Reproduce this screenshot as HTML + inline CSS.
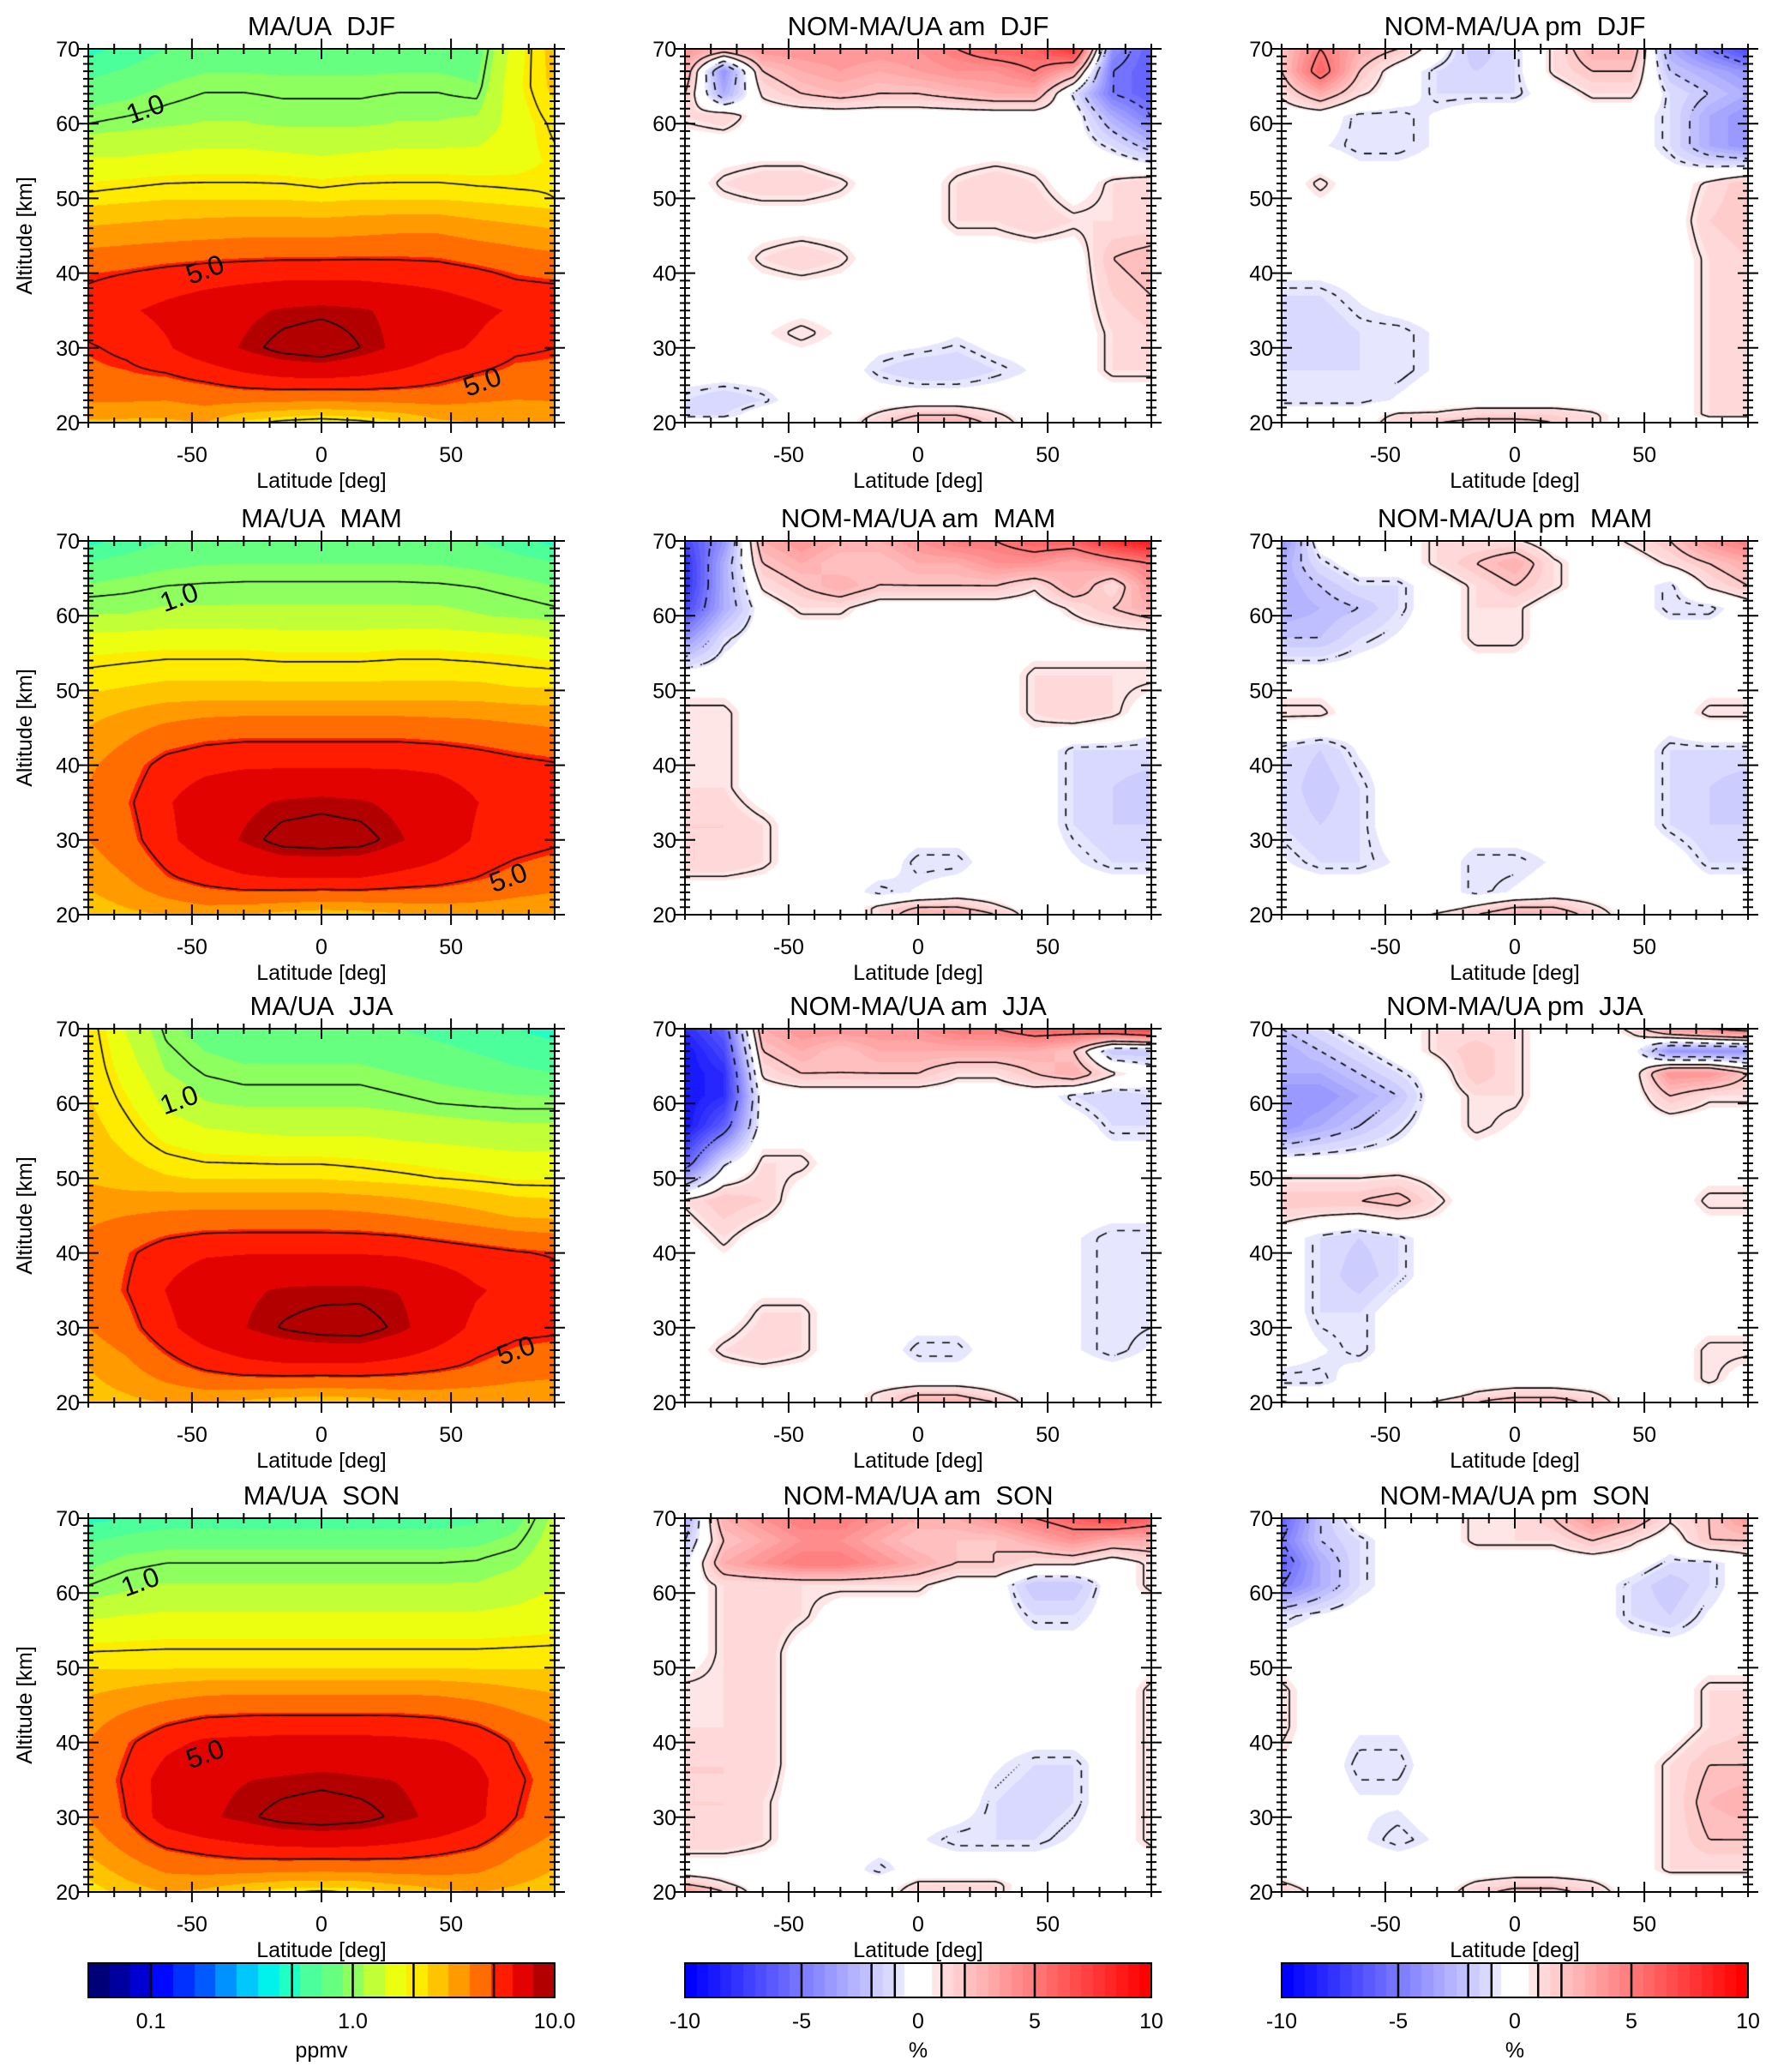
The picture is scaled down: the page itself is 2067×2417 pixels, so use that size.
<!DOCTYPE html>
<html><head><meta charset="utf-8">
<style>
html,body{margin:0;padding:0;background:#fff;}
#wrap{position:relative;width:2067px;height:2417px;overflow:hidden;background:#fff;}
canvas{position:absolute;}
svg{position:absolute;left:0;top:0;}
text{font-family:"Liberation Sans",sans-serif;fill:#000;white-space:pre;}
</style></head>
<body>
<div id="wrap">
<svg id="ax" width="2067" height="2417"></svg>
</div>
<script>
// ---------- data ----------
const LAT=[-90,-75,-60,-45,-30,-15,0,15,30,45,60,75,90];
const ALT_L=[70,65,60,55,50,45,40,35,30,25,20];
const ALT_D=[70,67,64,61,57,52,47,42,37,32,27,23,21,20];
const maDJF=[
[0.5,0.6,0.7,0.75,0.75,0.75,0.75,0.75,0.75,0.75,0.75,1.6,2.6],
[0.75,0.8,0.9,0.97,0.97,0.95,0.95,0.95,0.97,0.97,0.9,1.7,2.5],
[1.0,1.05,1.1,1.15,1.15,1.1,1.1,1.1,1.15,1.15,1.2,1.6,2.1],
[1.5,1.5,1.55,1.6,1.6,1.55,1.5,1.55,1.6,1.6,1.6,1.7,1.9],
[2.1,2.2,2.3,2.3,2.3,2.3,2.2,2.3,2.3,2.3,2.2,2.1,2.0],
[3.3,3.4,3.5,3.6,3.7,3.7,3.7,3.8,3.9,3.9,3.6,3.4,3.2],
[4.8,5,5.3,5.5,5.6,5.7,5.7,5.7,5.6,5.5,5.2,4.8,4.6],
[5.5,6,6.5,7,7.5,8,8.2,8,7.5,7,6.5,6,6],
[4.9,5.2,6,7,8,9,9.5,8.5,7.5,6.5,6,5.2,5],
[4.6,4.6,4.5,4.8,5.2,5.4,5.4,5.4,5.2,4.9,4.5,4.3,4.4],
[2.8,2.8,2.8,3,2.2,1.8,1.6,1.8,2.2,2.8,3,3,3]];
const maMAM=[
[0.5,0.6,0.7,0.75,0.75,0.75,0.75,0.75,0.75,0.75,0.7,0.6,0.5],
[0.85,0.9,0.95,0.97,0.98,0.98,0.98,0.98,0.98,0.97,0.95,0.9,0.85],
[1.15,1.15,1.2,1.2,1.2,1.2,1.2,1.2,1.2,1.2,1.15,1.1,1.05],
[1.8,1.85,1.9,1.9,1.9,1.85,1.85,1.85,1.9,1.9,1.85,1.8,1.7],
[2.3,2.4,2.5,2.5,2.5,2.5,2.5,2.5,2.5,2.5,2.5,2.4,2.4],
[3,3.5,4,4.3,4.4,4.4,4.4,4.4,4.4,4.3,4.2,4,3.8],
[3.6,4.4,5.4,5.8,6,6,6,6,6,5.9,5.6,5.3,5.1],
[4,4.8,6,7,7.5,8,8.2,8,7.5,7,6.2,5.6,5.5],
[3.8,4.5,5.8,7,8,9,9.2,9,8,7,6,5.5,5.2],
[3.2,3.8,4.8,5.5,6,6.2,6.2,6.2,5.8,5.5,5,4.5,4.2],
[2.5,2.8,3,3.2,3,2.7,2.5,2.6,2.9,3.1,3.2,3.2,3.2]];
const maJJA=[
[2.2,1.4,0.95,0.8,0.75,0.75,0.75,0.75,0.7,0.65,0.6,0.55,0.5],
[2.3,1.6,1.1,0.95,0.9,0.9,0.9,0.9,0.85,0.8,0.75,0.7,0.65],
[2.4,1.9,1.35,1.15,1.1,1.1,1.1,1.1,1.05,1.0,0.97,0.95,0.95],
[2.6,2.2,1.8,1.6,1.55,1.5,1.5,1.5,1.45,1.4,1.35,1.3,1.3],
[2.9,2.6,2.4,2.3,2.3,2.3,2.3,2.2,2.1,2,1.9,1.8,1.8],
[3.6,3.8,4,4.1,4.1,4.1,4.1,4.0,3.8,3.5,3.2,2.9,2.8],
[4.2,4.8,5.6,6,6.1,6.1,6.1,6.1,6,5.7,5.4,5.1,4.9],
[4,5,6.2,7.2,7.6,8,8.1,8.1,7.8,7.2,6.3,5.8,5.5],
[3.8,4.5,5.8,7,7.8,8.6,9.1,9.2,8.2,7,5.8,5.3,5.2],
[3,3.6,4.5,5.3,5.8,6,6,6,5.7,5.3,4.8,4.4,4.2],
[2.6,2.8,3,3,2.8,2.5,2.4,2.5,2.8,3,3.1,3.1,3.1]];
const maSON=[
[0.5,0.55,0.6,0.6,0.6,0.6,0.6,0.6,0.6,0.6,0.65,0.8,1.2],
[0.8,0.9,0.95,0.95,0.95,0.95,0.95,0.95,0.95,0.95,0.97,1.05,1.3],
[1.05,1.15,1.2,1.2,1.2,1.2,1.2,1.2,1.2,1.2,1.2,1.3,1.5],
[1.6,1.65,1.7,1.7,1.7,1.7,1.7,1.7,1.7,1.7,1.7,1.75,1.8],
[2.3,2.3,2.3,2.3,2.3,2.3,2.3,2.3,2.3,2.3,2.3,2.3,2.3],
[3.2,3.6,4,4.3,4.4,4.4,4.4,4.4,4.4,4.3,4,3.6,3.3],
[3.8,4.8,5.8,6.4,6.5,6.6,6.6,6.6,6.5,6.3,5.8,4.8,4.2],
[4,5.2,6.8,7.5,7.8,8,8.2,8,7.8,7.4,6.6,5.2,4.4],
[3.8,5,6.8,7.6,8.2,9,9.3,9,8.2,7.5,6.5,5,4.2],
[3,3.8,4.6,5,5.3,5.4,5.4,5.4,5.3,5,4.6,3.8,3.2],
[2,2.6,3,2.8,2.3,2,1.9,2,2.4,2.8,3,2.8,2.6]];
const amDJF=[
[4,3,4,4,4,4,4,5,6,6,8,-4,-6],
[3,-4,2,3,3.5,3,3.5,4,4,5,3,-5,-6],
[2,-3,1,2,2.5,2,2,2.5,3,3,-1,-5,-6],
[1,1.5,0,0,0,0,0,0,0,0,0,-3,-5],
[0,0,0,0,-0.5,0,0,0,0,0,0,-1,-2.5],
[0,1,1.5,1.5,1,0,0,1,1.5,1,0,1,1.5],
[0,0,0,0,0,0,0,1,1,1.5,1,1,1],
[0,0,1,1.5,1,0,0,0,0,0,0,2,2.5],
[0,0,0,0,0,0,0,0,0,0,0,1.5,2],
[0,0,0.5,1,0.5,0,0,-0.5,0,0,0,1,1.5],
[0,0,0,0,0,-1,-1.5,-1.5,-1,-0.5,0,1,1],
[-1,-1.5,-1,0,0,0,0,0,0,0,0,0,0],
[-1,-1,0,0,0,1,2,2,1,0,0,0,0],
[0,0,0,0,0,1.5,3,3,1.5,0,0,0,0]];
const pmDJF=[
[2,5,3,2,0,-2,-1,1,3,3,-3,-5,-7],
[2,6,2,0,-1,-1.5,-1,1,2,2,-2,-3,-4],
[1,3,1,0,-1,-1,-1,0,1,1,-1,-2,-3],
[0,0,-1,-1,-0.5,0,0,0,0,0,-1,-3,-4],
[0,-0.5,-1,-1,-0.5,0,0,0,0,0,-1,-3,-4],
[0,1,0,0,0,0,0,0,0,0,0,1,2],
[0,0,0,0,0,0,0,0,0,0,0,1.5,2],
[0,0,0,0,0,0,0,0,0,0,0,1,1.5],
[-1,-1,-0.5,0,0,0,0,0,0,0,0,1,1.5],
[-1,-1.5,-1,-1,-0.5,0,0,0,0,0,0,1,1],
[-1,-1,-1,-1,-0.5,0,0,0,0,0,0,1,1.5],
[-1,-1,-1,-0.5,0,0,0,0,0,0,0,1,1.5],
[0,0,0,1,1,1.5,1.5,1.5,1,0,0,1,1],
[0,0,0,1.5,2,2.5,2.5,2,1,0,0,0,0]];
const amMAM=[
[-7,-4,3,4,3,3,4,5,5,6,6,8,9],
[-8,-3,2,3,2,2,3,3,4,4,3,4,5],
[-8,-3,1,2,3,2,2,2,2,1,3,1,4],
[-7,-3,0,1,1,0,0,0,0,0,1,2,3],
[-4,-1,0,0,0,0,0,0,0,0,0,0,0],
[0,0,0,0,0,0,0,0,0,1,1,1,1],
[1,1,0,0,0,0,0,0,0,1,1.5,1,0],
[1,1,0,0,0,0,0,0,0,0,-1,-1,-1],
[1,1,0,0,0,0,0,0,0,0,-1,-1.5,-2],
[1.5,1.5,1,0,0,0,0,0,0,0,-1,-1.5,-1.5],
[1.5,1.5,1,0,0,0,-1,-1,0,0,-0.5,-1,-1],
[0,0,0,0,0,-1,-0.5,0,0,0,0,0,0],
[0,0,0,0,0,1,2,2,1,0,0,0,0],
[0,0,0,0,0,1,3,3.5,2,0,0,0,0]];
const pmMAM=[
[-4,0,0,0,1,1,1,0,0,1,2,4,5],
[-3,-1,0,0,1,2,3,1,0,0,1,2,3],
[-3,-2,-1,-1,0,1,2,1,0,0,-1,1,2],
[-3,-2.5,-2,-1,0,1,1,0,0,0,-1,-1,0],
[-2,-2,-1,-0.5,0,1,1,0,0,0,0,0,0],
[0,0,0,0,0,0,0,0,0,0,0,0,0],
[1,1,0,0,0,0,0,0,0,0,0,1,1],
[-1,-1.5,-0.5,0,0,0,0,0,0,0,-1,-1,-1],
[-1,-2,-1,0,0,0,0,0,0,0,-1,-1.5,-2],
[-1,-1.5,-1,0,0,0,0,0,0,0,-1,-1.5,-1.5],
[-0.5,-1,-1,-0.5,0,-1,-1,-0.5,0,0,0,-1,-1],
[0,0,0,0,0,-1,-0.5,0,0,0,0,0,0],
[0,0,0,0,0,1,2,2,1,0,0,0,0],
[0,0,0,0,1,2,3,3,1.5,0,0,0,0]];
const amJJA=[
[-8,-6,3,4,4,4,4,5,5,6,6,7,8],
[-9,-7,2,3,2,3,3,3,3,3,2,-2,-2],
[-9,-8,1,2,2,2,2,1,1,2,3,1,0],
[-9,-8,0,0,0,0,0,0,0,0,-1,-1.5,-1],
[-9,-6,0,0,0,0,0,0,0,0,0,-1,-1],
[-6,-1,1,1,0,0,0,0,0,0,0,0,0],
[1,2,1.5,0,0,0,0,0,0,0,0,0,0],
[0,1,0,0,0,0,0,0,0,0,-0.5,-1,-1],
[0,0,0,0,0,0,0,0,0,0,-0.5,-1,-1],
[0,0,1,1,0,0,0,0,0,0,-0.5,-1,-1],
[0,1,1.5,1,0,0,-1,-1,0,0,-0.5,-1,-0.5],
[0,0,0,0,0,0,0,0,0,0,0,0,0],
[0,0,0,0,0,1,2,2,1,0,0,0,0],
[0,0,0,0,0,1,3,3,2,0,0,0,0]];
const pmJJA=[
[-2,-1,0,0,1,1,1,0,0,1,4,5,6],
[-3,-2,-1,0,1,2,1,0,0,0,-4,-4,-4],
[-3,-3,-2,-1,0,2,1,0,0,0,4,4,2],
[-4,-4,-3,-2,0,1,1,0,0,0,2,1,1],
[-4,-3,-2,-1,0,1,0.5,0,0,0,0,0,0],
[0,0,0,0,0,0,0,0,0,0,0,0,0],
[2,2,2,2.5,1,0,0,0,0,0,0,1,1],
[0,-1,-1.5,-1,0,0,0,0,0,0,0,0,0],
[0,-1,-2,-1,0,0,0,0,0,0,0,0,0],
[0,-1,-1,0,0,0,0,0,0,0,0,0,0],
[0,-0.5,-1,0,0,0,0,0,0,0,0,1,1],
[-1,-1,0,0,0,0,0,0,0,0,0,1,0],
[0,0,0,0,0,1,1.5,1.5,1,0,0,0,0],
[1,0,0,0,1,2,3,3,1.5,0,0,0,0]];
const amSON=[
[-3,3,4,5,5,4,3,3,4,5,6,7,6],
[-2,2,3,4,4,3,2,2,2,3,4,3,3],
[-1,3,4,5,5,4,3,2,2,1,1,0,1],
[0,1,1,1,1,1,1,0,0,-2,-2,0,1],
[0,1,1.5,1,0,0,0,0,0,-1,-1,0,0],
[0,1,1.5,0,0,0,0,0,0,0,0,0,0],
[1,1,1.5,0,0,0,0,0,0,0,0,0,1],
[1,1,1.5,0,0,0,0,0,0,0,0,0,1],
[1.5,1.5,1.5,0,0,0,0,0,-0.5,-1,-1,0,1],
[1.5,1.5,1,0,0,0,0,0,-1,-1.5,-1,0,1],
[1.5,1.5,1,0,0,0,-0.5,-1,-1,-1,-0.5,0,1],
[0,0,0,0,0,-1,0,0,0,0,0,0,0],
[2,1,0,0,0,0,1,1,1,0,0,0,0],
[4,2,0,0,0,0,1.5,1.5,1,0,0,0,0]];
const pmSON=[
[-6,-2,0,0,0,1,1,2,4,3,1,2,4],
[-5,-2,-1,0,0,1,1,1,2,1,0,2,2],
[-6,-3,-1,0,0,0,0,0,0,0,-1,-1,0],
[-5,-3,-1,0,0,0,0,0,0,-1,-2,-1,0],
[-1,-0.5,0,0,0,0,0,0,0,-1,-1.5,-0.5,0],
[0,0,0,0,0,0,0,0,0,0,0,0,0],
[1,0,0,0,0,0,0,0,0,0,0,1,1],
[1,0,-0.5,-0.5,0,0,0,0,0,0,0,1,1.5],
[0.5,0,-1,-1,0,0,0,0,0,0,1,2,2],
[0,0,-0.5,-0.5,0,0,0,0,0,0,1,2.5,3],
[0,0,-0.5,-1,-0.5,-0.5,-0.5,-0.5,0,0,1,2,2],
[0,0,0,0,0,0,0,0,0,0,1,1,1],
[1,0,0,0,0,1,1.5,1.5,1,0,0,0,0],
[2,0,0,0,0,1.5,2.5,2.5,1.5,0,0,0,0]];
const SEASONS=["DJF","MAM","JJA","SON"];
const LEFT_DATA=[maDJF,maMAM,maJJA,maSON];
const AM_DATA=[amDJF,amMAM,amJJA,amSON];
const PM_DATA=[pmDJF,pmMAM,pmJJA,pmSON];
const LEFT_LEVELS=[0.1,0.5,1,2,5,8.5];
const DIFF_LEVELS=[-5,-2,-0.8,0.8,2,5];
const Y_TICKS=[20,30,40,50,60,70];
const X_TICKS=[-50,0,50];
const CB_LEFT_LABELS=["0.1","1.0","10.0"];
const CB_LEFT_VALS=[0.1,1,10];
const CB_DIFF_LABELS=["-10","-5","0","5","10"];
const CB_DIFF_VALS=[-10,-5,0,5,10];

// ---------- layout ----------
const COLX=[103,799,1495], PW=544;
const ROWY=[57,631,1200,1771], PH=436;
const LOGMIN=-1.31, LOGMAX=1;
const wrap=document.getElementById('wrap');
const svg=document.getElementById('ax');
const NS="http://www.w3.org/2000/svg";
function xs(lat,x0){return x0+(lat+90)/180*PW;}
function ys(alt,y0){return y0+(70-alt)/50*PH;}

function interp(grid,alts,lat,alt){
  let fi=(lat+90)/15; let i=Math.min(11,Math.max(0,Math.floor(fi))); let tx=fi-i;
  let j=0; while(j<alts.length-2 && alt<alts[j+1]) j++;
  let ty=(alts[j]-alt)/(alts[j]-alts[j+1]); ty=Math.max(0,Math.min(1,ty));
  const a=grid[j][i],b=grid[j][i+1],c=grid[j+1][i],d=grid[j+1][i+1];
  return (a*(1-tx)+b*tx)*(1-ty)+(c*(1-tx)+d*tx)*ty;
}
const STOPS=[[0,[0,0,100]],[0.08,[0,0,170]],[0.15,[0,0,255]],[0.25,[0,90,255]],[0.33,[0,190,255]],[0.4,[0,255,230]],[0.47,[70,255,160]],[0.55,[120,255,110]],[0.62,[200,255,50]],[0.68,[255,255,0]],[0.74,[255,205,0]],[0.8,[255,150,0]],[0.86,[255,90,0]],[0.89,[255,20,0]],[0.94,[220,0,0]],[0.97,[190,0,0]],[1,[140,0,0]]];
function leftColor(f){
  f=Math.max(0,Math.min(0.9999,f)); f=(Math.floor(f*22)+0.5)/22;
  for(let k=0;k<STOPS.length-1;k++){ if(f<=STOPS[k+1][0]){const t=(f-STOPS[k][0])/(STOPS[k+1][0]-STOPS[k][0]);
    return STOPS[k][1].map((v,q)=>Math.round(v+(STOPS[k+1][1][q]-v)*t));}}
  return STOPS[STOPS.length-1][1];
}
function diffColor(v){
  const av=Math.min(10,Math.abs(v)); if(av<0.6) return [255,255,255];
  const t=Math.ceil(av*2)/20; const w=Math.round(255*(1-t));
  return v>0?[255,w,w]:[w,w,255];
}
function logf(v){return (Math.log10(Math.max(v,1e-3))-LOGMIN)/(LOGMAX-LOGMIN);}

function makeCanvas(x,y,w,h,name){
  const c=document.createElement('canvas'); c.width=w;c.height=h;
  c.style.left=x+'px';c.style.top=y+'px';
  
  
  wrap.insertBefore(c,svg); return c;
}
function drawField(name,x0,y0,grid,alts,isLeft,levels){
  const c=makeCanvas(x0,y0,PW,PH,name); const ctx=c.getContext('2d');
  const img=ctx.createImageData(PW,PH);
  const val=(px,py)=>{const lat=-90+px/PW*180, alt=70-py/PH*50; return interp(grid,alts,lat,alt);};
  for(let py=0;py<PH;py++)for(let px=0;px<PW;px++){
    const v=val(px+0.5,py+0.5); const col=isLeft?leftColor(logf(v)):diffColor(v);
    const o=(py*PW+px)*4; img.data[o]=col[0];img.data[o+1]=col[1];img.data[o+2]=col[2];img.data[o+3]=255;}
  ctx.putImageData(img,0,0);
  const s=3, nx=Math.ceil(PW/s)+1, ny=Math.ceil(PH/s)+1;
  const F=[]; for(let j=0;j<ny;j++){F.push([]);for(let i=0;i<nx;i++){F[j].push(val(i*s,j*s));}}
  ctx.strokeStyle='#000'; ctx.lineWidth=1.6;
  levels.forEach(L=>{
    ctx.beginPath();
    for(let j=0;j<ny-1;j++)for(let i=0;i<nx-1;i++){
      const c4=[[i,j],[i+1,j],[i+1,j+1],[i,j+1]]; const pts=[];
      for(let e=0;e<4;e++){const p=c4[e],q=c4[(e+1)%4]; const a=F[p[1]][p[0]]-L,b=F[q[1]][q[0]]-L;
        if((a<0)!==(b<0)){const t=a/(a-b); pts.push([(p[0]+(q[0]-p[0])*t)*s,(p[1]+(q[1]-p[1])*t)*s]);}}
      for(let k=0;k+1<pts.length;k+=2){
        if(!isLeft && L<0 && (Math.floor((i+j)/3)%2)) continue;
        ctx.moveTo(pts[k][0],pts[k][1]);ctx.lineTo(pts[k+1][0],pts[k+1][1]);}
    }
    ctx.stroke();
  });
}
function el(tag,attrs,txt,name,inter){
  const e=document.createElementNS(NS,tag);
  for(const k in attrs) e.setAttribute(k,attrs[k]);
  if(txt!==undefined&&txt!==null) e.textContent=txt;
  
  
  svg.appendChild(e); return e;
}
function axes(x0,y0,title,showY,pname){
  el('rect',{x:x0,y:y0,width:PW,height:PH,fill:'none',stroke:'#000','stroke-width':2},null,pname+'-frame');
  let d='';
  for(let a=20;a<=70;a++){const y=ys(a,y0); const L=(a%10===0)?12:6; d+=`M${x0} ${y}h${L}M${x0+PW} ${y}h${-L}M${x0} ${y}h-${L}M${x0+PW} ${y}h${L}`;}
  for(let l=-90;l<=90;l+=10){const x=xs(l,x0); const L=(l%50===0)?12:6; d+=`M${x} ${y0+PH}v${-L}M${x} ${y0}v${L}M${x} ${y0+PH}v${L}M${x} ${y0}v${-L}`;}
  el('path',{d:d,stroke:'#000','stroke-width':2,fill:'none'},null,pname+'-ticks');
  Y_TICKS.forEach(t=>el('text',{x:x0-10,y:ys(t,y0)+9,'text-anchor':'end','font-size':25},String(t),pname+'-y-tick-label'));
  X_TICKS.forEach(t=>el('text',{x:xs(t,x0),y:y0+PH+46,'text-anchor':'middle','font-size':25},String(t),pname+'-x-tick-label'));
  el('text',{x:x0+PW/2,y:y0+PH+76,'text-anchor':'middle','font-size':25},'Latitude [deg]',pname+'-x-axis-title');
  el('text',{x:x0+PW/2,y:y0-16,'text-anchor':'middle','font-size':31},title,pname+'-title');
  if(showY) el('text',{x:37,y:y0+PH/2,'text-anchor':'middle','font-size':25,transform:`rotate(-90 37 ${y0+PH/2})`},'Altitude [km]',pname+'-y-axis-title');
}
for(let r=0;r<4;r++){
  const s=SEASONS[r];
  drawField('ma-ua-'+s.toLowerCase()+'-field',COLX[0],ROWY[r],LEFT_DATA[r],ALT_L,true,LEFT_LEVELS);
  drawField('am-'+s.toLowerCase()+'-field',COLX[1],ROWY[r],AM_DATA[r],ALT_D,false,DIFF_LEVELS);
  drawField('pm-'+s.toLowerCase()+'-field',COLX[2],ROWY[r],PM_DATA[r],ALT_D,false,DIFF_LEVELS);
  axes(COLX[0],ROWY[r],'MA/UA\u00a0\u00a0'+s,true,'ma-ua-'+s.toLowerCase());
  axes(COLX[1],ROWY[r],'NOM-MA/UA am\u00a0\u00a0'+s,false,'am-'+s.toLowerCase());
  axes(COLX[2],ROWY[r],'NOM-MA/UA pm\u00a0\u00a0'+s,false,'pm-'+s.toLowerCase());
}
[[0,"1.0",-68,62],[0,"5.0",-45,40.5],[0,"5.0",62,25.5],[1,"1.0",-55,62.5],[1,"5.0",72,25],[2,"1.0",-55,60.5],[2,"5.0",75,27],[3,"1.0",-70,61.5],[3,"5.0",-45,38.5]].forEach(l=>{
  const x=xs(l[2],COLX[0]),y=ys(l[3],ROWY[l[0]]);
  el('text',{x:x,y:y+11,'text-anchor':'middle','font-size':32,transform:`rotate(-20 ${x} ${y})`},l[1],'contour-label');
});
const CBY=2290, CBH=40;
function cbar(x0,isLeft,name){
  const c=makeCanvas(x0,CBY,PW,CBH,name); const ctx=c.getContext('2d');
  for(let px=0;px<PW;px++){const f=(px+0.5)/PW; const col=isLeft?leftColor(f):diffColor(-10+20*f);
    ctx.fillStyle=`rgb(${col[0]},${col[1]},${col[2]})`; ctx.fillRect(px,0,1,CBH);}
  el('rect',{x:x0,y:CBY,width:PW,height:CBH,fill:'none',stroke:'#000','stroke-width':2},null,name+'-frame');
  const pos=v=>isLeft?x0+logf(v)*PW:x0+(v+10)/20*PW;
  const lv=isLeft?LEFT_LEVELS.slice(0,5):[-5,-2,-1,1,2,5];
  let d=''; lv.forEach(v=>{d+=`M${pos(v)} ${CBY}v${CBH}`;});
  el('path',{d:d,stroke:'#000','stroke-width':2.5},null,name+'-level-lines');
  const labs=isLeft?CB_LEFT_LABELS:CB_DIFF_LABELS, vals=isLeft?CB_LEFT_VALS:CB_DIFF_VALS;
  labs.forEach((t,k)=>el('text',{x:pos(vals[k]),y:CBY+CBH+36,'text-anchor':'middle','font-size':25},t,name+'-tick-label'));
  el('text',{x:x0+PW/2,y:CBY+CBH+70,'text-anchor':'middle','font-size':25},isLeft?'ppmv':'%',name+'-unit');
}
cbar(COLX[0],true,'ppmv-colorbar');
cbar(COLX[1],false,'am-colorbar');
cbar(COLX[2],false,'pm-colorbar');
</script>
</body></html>
